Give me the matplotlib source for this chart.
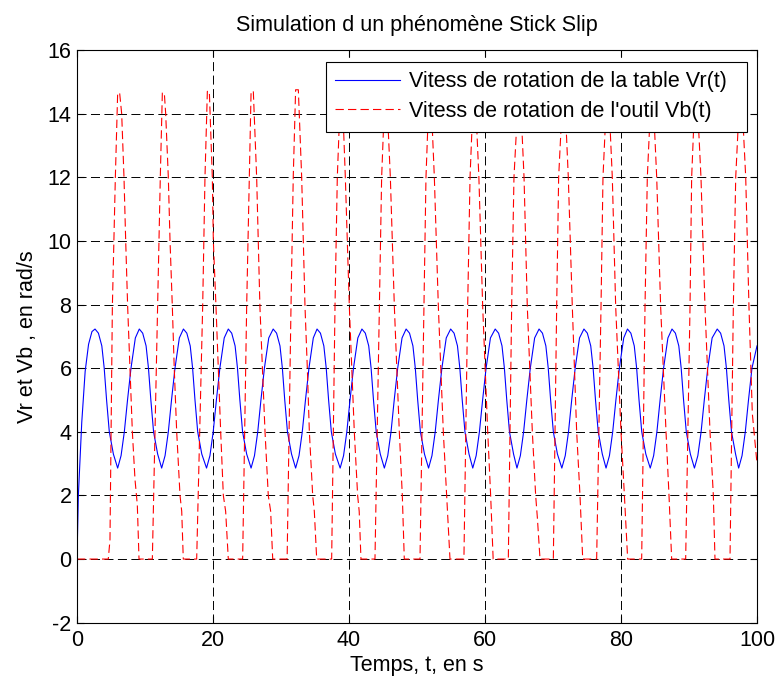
import matplotlib
matplotlib.use('Agg')
import matplotlib.pyplot as plt

plt.rcParams['font.family'] = ['Liberation Sans', 'DejaVu Sans']
plt.rcParams['font.size'] = 15.5
plt.rcParams['lines.scale_dashes'] = False
plt.rcParams['axes.unicode_minus'] = False

# Vr(t) : vitesse de la table
t_vr = [0.0, 0.2, 0.7, 1.2, 1.7, 2.2,
        2.65, 3.15, 3.65, 4.0, 4.35, 4.75, 5.35, 5.98, 6.48, 6.96, 7.43, 7.94, 8.58,
        9.16, 9.66, 10.16, 10.51, 10.86, 11.26, 11.86, 12.45, 12.95, 13.43, 13.9, 14.41, 15.05,
        15.65, 16.15, 16.65, 17.0, 17.35, 17.75, 18.35, 19.05, 19.55, 20.03, 20.5, 21.01, 21.65,
        22.25, 22.75, 23.25, 23.6, 23.95, 24.35, 24.95, 25.6, 26.1, 26.58, 27.05, 27.56, 28.2,
        28.85, 29.35, 29.85, 30.2, 30.55, 30.95, 31.55, 32.15, 32.65, 33.13, 33.6, 34.11, 34.75,
        35.3, 35.8, 36.3, 36.65, 37.0, 37.4, 38.0, 38.7, 39.2, 39.68, 40.15, 40.66, 41.3,
        41.9, 42.4, 42.9, 43.25, 43.6, 44.0, 44.6, 45.2, 45.7, 46.18, 46.65, 47.16, 47.8,
        48.4, 48.9, 49.4, 49.75, 50.1, 50.5, 51.1, 51.7, 52.2, 52.68, 53.15, 53.66, 54.3,
        54.95, 55.45, 55.95, 56.3, 56.65, 57.05, 57.65, 58.2, 58.7, 59.18, 59.65, 60.16, 60.8,
        61.5, 62.0, 62.5, 62.85, 63.2, 63.6, 64.2, 64.7, 65.2, 65.68, 66.15, 66.66, 67.3,
        67.95, 68.45, 68.95, 69.3, 69.65, 70.05, 70.65, 71.3, 71.8, 72.28, 72.75, 73.26, 73.9,
        74.55, 75.05, 75.55, 75.9, 76.25, 76.65, 77.25, 77.8, 78.3, 78.78, 79.25, 79.76, 80.4,
        80.95, 81.45, 81.95, 82.3, 82.65, 83.05, 83.65, 84.3, 84.8, 85.28, 85.75, 86.26, 86.9,
        87.5, 88.0, 88.5, 88.85, 89.2, 89.6, 90.2, 90.8, 91.3, 91.78, 92.25, 92.76, 93.4,
        94.15, 94.65, 95.15, 95.5, 95.85, 96.25, 96.85, 97.3, 97.8, 98.28, 98.75, 99.26, 100.0]
vr = [0.0, 2.0, 4.3, 5.9, 6.75, 7.15,
      7.23, 7.1, 6.7, 6.0, 5.0, 4.0, 3.3, 2.86, 3.25, 4.0, 5.0, 6.0, 6.95,
      7.23, 7.1, 6.7, 6.0, 5.0, 4.0, 3.3, 2.86, 3.25, 4.0, 5.0, 6.0, 6.95,
      7.23, 7.1, 6.7, 6.0, 5.0, 4.0, 3.3, 2.86, 3.25, 4.0, 5.0, 6.0, 6.95,
      7.23, 7.1, 6.7, 6.0, 5.0, 4.0, 3.3, 2.86, 3.25, 4.0, 5.0, 6.0, 6.95,
      7.23, 7.1, 6.7, 6.0, 5.0, 4.0, 3.3, 2.86, 3.25, 4.0, 5.0, 6.0, 6.95,
      7.23, 7.1, 6.7, 6.0, 5.0, 4.0, 3.3, 2.86, 3.25, 4.0, 5.0, 6.0, 6.95,
      7.23, 7.1, 6.7, 6.0, 5.0, 4.0, 3.3, 2.86, 3.25, 4.0, 5.0, 6.0, 6.95,
      7.23, 7.1, 6.7, 6.0, 5.0, 4.0, 3.3, 2.86, 3.25, 4.0, 5.0, 6.0, 6.95,
      7.23, 7.1, 6.7, 6.0, 5.0, 4.0, 3.3, 2.86, 3.25, 4.0, 5.0, 6.0, 6.95,
      7.23, 7.1, 6.7, 6.0, 5.0, 4.0, 3.3, 2.86, 3.25, 4.0, 5.0, 6.0, 6.95,
      7.23, 7.1, 6.7, 6.0, 5.0, 4.0, 3.3, 2.86, 3.25, 4.0, 5.0, 6.0, 6.95,
      7.23, 7.1, 6.7, 6.0, 5.0, 4.0, 3.3, 2.86, 3.25, 4.0, 5.0, 6.0, 6.95,
      7.23, 7.1, 6.7, 6.0, 5.0, 4.0, 3.3, 2.86, 3.25, 4.0, 5.0, 6.0, 6.95,
      7.23, 7.1, 6.7, 6.0, 5.0, 4.0, 3.3, 2.86, 3.25, 4.0, 5.0, 6.0, 6.95,
      7.23, 7.1, 6.7, 6.0, 5.0, 4.0, 3.3, 2.86, 3.25, 4.0, 5.0, 6.0, 6.7]

# Vb(t) : vitesse de l'outil (stick / slip)
t_vb = [0.0,
        4.6, 4.85, 5.2, 5.64, 5.98, 6.27, 6.57, 6.91, 7.16, 7.45, 7.79, 8.14, 8.53, 8.87, 9.12,
        11.08, 11.86, 12.25, 12.55, 12.84, 13.04, 13.43, 13.68, 14.02, 14.3, 14.66, 15.15, 15.4, 15.63,
        17.6, 18.48, 18.82, 19.17, 19.46, 19.9, 20.05, 20.44, 20.78, 21.13, 21.52, 21.86, 22.25,
        24.36, 24.95, 25.34, 25.6, 25.93, 26.42, 26.9, 27.65, 28.13, 28.48, 28.78,
        30.9, 31.47, 31.8, 32.15, 32.55, 33.04, 33.53, 33.87, 34.17, 34.66, 34.9, 35.25,
        37.45, 37.94, 38.28, 38.75, 39.0, 39.46, 40.05, 40.78, 41.27, 41.5, 41.76,
        43.82, 44.46, 44.8, 45.28, 45.52, 46.08, 46.67, 47.4, 47.84, 48.13,
        50.44, 51.03, 51.32, 51.78, 52.02, 52.55, 53.14, 53.87, 54.36, 54.85,
        56.9, 57.45, 57.8, 58.3, 58.55, 59.1, 59.66, 60.4, 60.83, 61.2,
        63.43, 63.92, 64.26, 64.92, 65.18, 65.74, 66.22, 66.96, 67.45, 67.7, 68.09,
        70.05, 70.54, 70.83, 71.45, 71.7, 72.25, 72.84, 73.48, 73.97, 74.37,
        76.42, 77.06, 77.35, 77.92, 78.16, 78.72, 79.22, 80.0, 80.5, 80.98,
        83.04, 83.53, 83.87, 84.44, 84.68, 85.25, 85.83, 86.62, 87.06, 87.45,
        89.51, 90.15, 90.39, 90.9, 91.15, 91.76, 92.35, 93.09, 93.58, 93.82,
        96.03, 96.52, 96.87, 97.48, 97.72, 98.34, 98.82, 99.31, 100.0]
vb = [0.0,
      0.0, 0.6, 7.93, 12.0, 14.65, 14.65, 14.0, 12.0, 10.0, 7.93, 6.0, 4.0, 2.5, 1.7, 0.0,
      0.0, 7.93, 12.0, 14.65, 14.65, 14.0, 12.0, 10.0, 7.93, 6.0, 4.0, 2.0, 1.5, 0.0,
      0.0, 7.93, 12.0, 14.7, 14.7, 12.0, 10.0, 7.93, 6.0, 4.0, 2.0, 1.5, 0.0,
      0.0, 7.93, 12.0, 14.7, 14.7, 12.0, 7.93, 4.0, 2.0, 1.5, 0.0,
      0.0, 7.93, 12.0, 14.75, 14.75, 12.0, 7.93, 6.0, 4.0, 2.0, 1.5, 0.0,
      0.0, 7.93, 12.0, 14.7, 14.7, 12.0, 7.93, 4.0, 2.0, 1.5, 0.0,
      0.0, 7.93, 12.0, 14.7, 14.7, 12.0, 7.93, 4.0, 2.0, 0.0,
      0.0, 7.93, 12.0, 14.7, 14.7, 12.0, 7.93, 4.0, 2.0, 0.0,
      0.0, 7.93, 12.0, 14.7, 14.7, 12.0, 7.93, 4.0, 2.0, 0.0,
      0.0, 7.93, 12.0, 14.7, 14.7, 12.0, 7.93, 4.0, 2.0, 1.3, 0.0,
      0.0, 7.93, 12.0, 14.7, 14.7, 12.0, 7.93, 4.0, 2.0, 0.0,
      0.0, 7.93, 12.0, 14.7, 14.7, 12.0, 7.93, 4.0, 2.0, 0.0,
      0.0, 7.93, 12.0, 14.7, 14.7, 12.0, 7.93, 4.0, 2.0, 0.0,
      0.0, 7.93, 12.0, 14.7, 14.7, 12.0, 7.93, 4.0, 2.0, 0.0,
      0.0, 7.93, 12.0, 14.7, 14.7, 12.0, 7.93, 4.58, 3.0]

x_ticks = [0, 20, 40, 60, 80, 100]
y_ticks = [-2, 0, 2, 4, 6, 8, 10, 12, 14, 16]

label_vr = 'Vitess de rotation de la table Vr(t)'
label_vb = "Vitess de rotation de l'outil Vb(t)"

fig = plt.figure(figsize=(7.77, 6.8), dpi=100)
ax = fig.add_axes([77 / 777, 1 - 622.7 / 680, 680 / 777, 572.7 / 680])

ax.plot(t_vr, vr, color='blue', lw=0.8, label=label_vr)
ax.plot(t_vb, vb, color='red', lw=0.8, linestyle=(0, (6, 3)), label=label_vb)

ax.set_xlim(0, 100)
ax.set_ylim(-2, 16)
ax.set_xticks(x_ticks)
ax.set_yticks(y_ticks)
ax.set_axisbelow(True)
ax.grid(True, color='black', lw=0.7, linestyle=(0, (6.5, 3.2)))
ax.tick_params(direction='in', top=True, right=True, length=5, width=0.8,
               labelsize=15.5)
ax.tick_params(axis='x', pad=5)
ax.tick_params(axis='y', pad=4)
for sp in ax.spines.values():
    sp.set_linewidth(0.8)

ax.set_title('Simulation d un phénomène Stick Slip', fontsize=15.5, pad=14)
ax.set_xlabel('Temps, t, en s', fontsize=15.5, labelpad=3)
ax.set_ylabel('Vr et Vb , en rad/s', fontsize=15.5, labelpad=6.5)

# boite de legende un peu plus large que le texte, comme sous MATLAB
leg = ax.legend(loc='upper left', bbox_to_anchor=(0.3657, 0.8586, 0.6191, 0.121),
                mode='expand', borderaxespad=0,
                fancybox=False, edgecolor='black', framealpha=1,
                handlelength=3.0, handletextpad=0.4, borderpad=0.45, labelspacing=0.4)
leg.get_frame().set_linewidth(0.8)

fig.savefig('out.png', dpi=100)
